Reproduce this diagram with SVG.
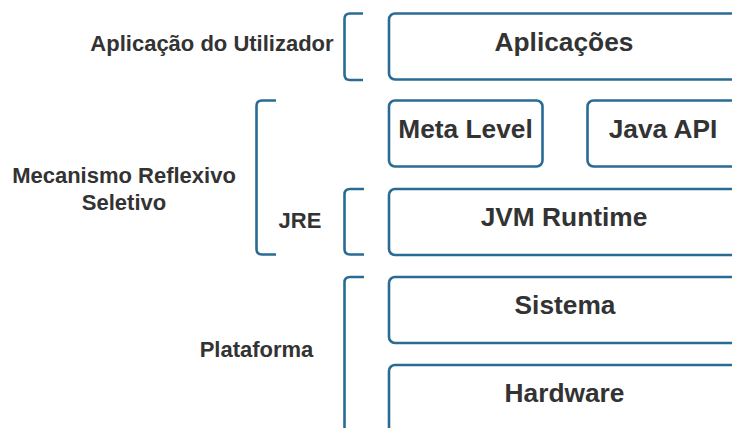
<svg xmlns="http://www.w3.org/2000/svg" width="732" height="428" viewBox="0 0 732 428">
  <style>
    .box { fill: #ffffff; stroke: #2a6b94; stroke-width: 2.6; }
    .brace { fill: none; stroke: #2a6b94; stroke-width: 2.6; stroke-linecap: butt; }
    .title { font-family: "Liberation Sans", Arial, sans-serif; font-weight: bold; font-size: 26.3px; fill: #333333; text-anchor: middle; }
    .label { font-family: "Liberation Sans", Arial, sans-serif; font-weight: bold; font-size: 22px; fill: #333333; text-anchor: middle; }
  </style>
  <rect width="732" height="428" fill="#ffffff"/>

  <!-- layer boxes -->
  <g id="aplicacoes">
    <rect class="box" x="389" y="13.5" width="360" height="66" rx="6"/>
    <text class="title" x="564" y="51">Aplicações</text>
  </g>
  <g id="meta-level">
    <rect class="box" x="389" y="100.5" width="153.5" height="66" rx="6"/>
    <text class="title" x="465.5" y="138">Meta Level</text>
  </g>
  <g id="java-api">
    <rect class="box" x="587.5" y="100.5" width="160" height="66" rx="6"/>
    <text class="title" x="663" y="138">Java API</text>
  </g>
  <g id="jvm-runtime">
    <rect class="box" x="389" y="189" width="360" height="66" rx="6"/>
    <text class="title" x="564" y="226">JVM Runtime</text>
  </g>
  <g id="sistema">
    <rect class="box" x="389" y="277" width="360" height="66" rx="6"/>
    <text class="title" x="565" y="314">Sistema</text>
  </g>
  <g id="hardware">
    <rect class="box" x="389" y="365" width="360" height="80" rx="6"/>
    <text class="title" x="564.5" y="402">Hardware</text>
  </g>

  <!-- grouping brackets -->
  <g id="brackets">
    <path class="brace" d="M363,13.5 H350 Q344.5,13.5 344.5,19 V74.5 Q344.5,80 350,80 H363"/>
    <path class="brace" d="M276,100.5 H262 Q256.5,100.5 256.5,106 V249 Q256.5,254.5 262,254.5 H276"/>
    <path class="brace" d="M364,189 H350 Q344.5,189 344.5,194.5 V249 Q344.5,254.5 350,254.5 H364"/>
    <path class="brace" d="M364,277 H350 Q344.5,277 344.5,282.5 V440"/>
  </g>

  <!-- bracket labels -->
  <g id="labels">
    <text class="label" x="212" y="51">Aplicação do Utilizador</text>
    <text class="label" x="124" y="183">Mecanismo Reflexivo</text>
    <text class="label" x="124" y="210">Seletivo</text>
    <text class="label" x="300" y="228">JRE</text>
    <text class="label" x="256.5" y="357">Plataforma</text>
  </g>
</svg>
